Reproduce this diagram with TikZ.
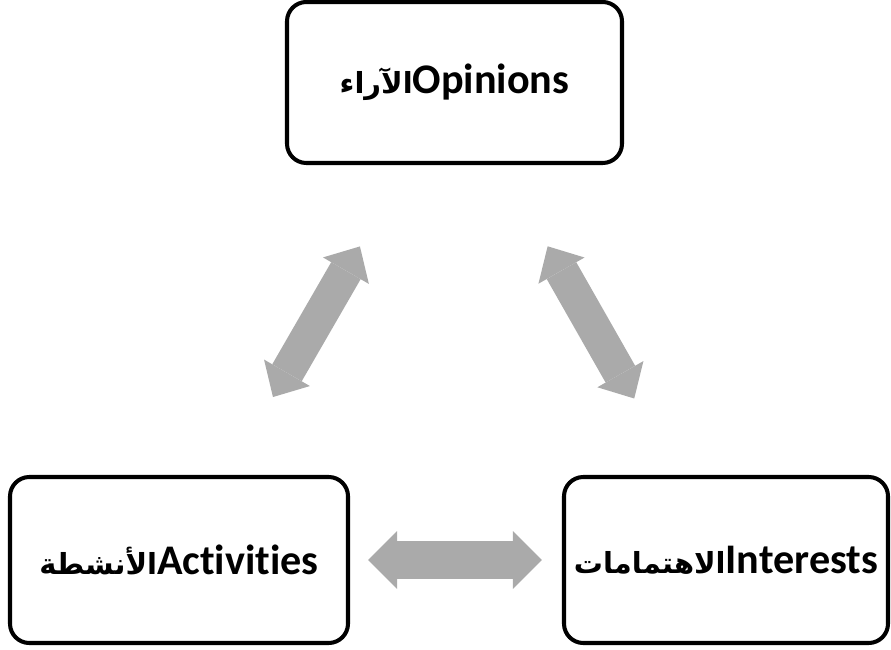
\documentclass[tikz,border=0pt]{standalone}
\usepackage{fontspec}
\setmainfont{Carlito}[BoldFont={Carlito Bold},Ligatures=NoCommon]
\newfontfamily\arabicfont[Script=Arabic]{DejaVu Sans}
\TeXXeTstate=1
\usetikzlibrary{arrows.meta}
\definecolor{arrowgray}{RGB}{170,170,170}
\newcommand{\arabictext}[1]{{\arabicfont\fontsize{16.5}{20}\selectfont\beginR #1\endR}}

\begin{document}
\begin{tikzpicture}
     \tikzstyle{box_style} = [rectangle,rounded corners=11pt,draw=black,line width=2.3pt,inner sep=0pt,font=\fontsize{24}{29}\selectfont\bfseries]
     \tikzstyle{flat_arrow} = [color=arrowgray,line width=0.76cm,{Triangle[width=1.16cm,length=0.58cm,line width=0pt]}-{Triangle[width=1.16cm,length=0.58cm,line width=0pt]}]
     \tikzstyle{slant_arrow} = [color=arrowgray,line width=0.68cm,{Triangle[width=1.06cm,length=0.56cm,line width=0pt]}-{Triangle[width=1.06cm,length=0.56cm,line width=0pt]}]
     \useasboundingbox (0,0) rectangle (17.82,-13);
     \node[box_style,minimum width=6.7cm,minimum height=3.22cm] (opinions) at (9.09,-1.65) {\arabictext{الآراء}Opinions};
     \node[box_style,minimum width=6.76cm,minimum height=3.32cm] (activities) at (3.58,-11.2) {\arabictext{الأنشطة}Activities};
     \node[box_style,minimum width=6.48cm,minimum height=3.32cm] (interests) at (14.52,-11.2) {\arabictext{الاهتمامات}Interests};
     \draw[flat_arrow,shorten <=0.36cm,shorten >=0.4cm] (activities) edge (interests);
     \draw[slant_arrow,shorten <=1.8cm,shorten >=1.88cm] (activities) edge (opinions);
     \draw[slant_arrow,shorten <=1.76cm,shorten >=1.87cm] (interests) edge (opinions);
\end{tikzpicture}
\end{document}
